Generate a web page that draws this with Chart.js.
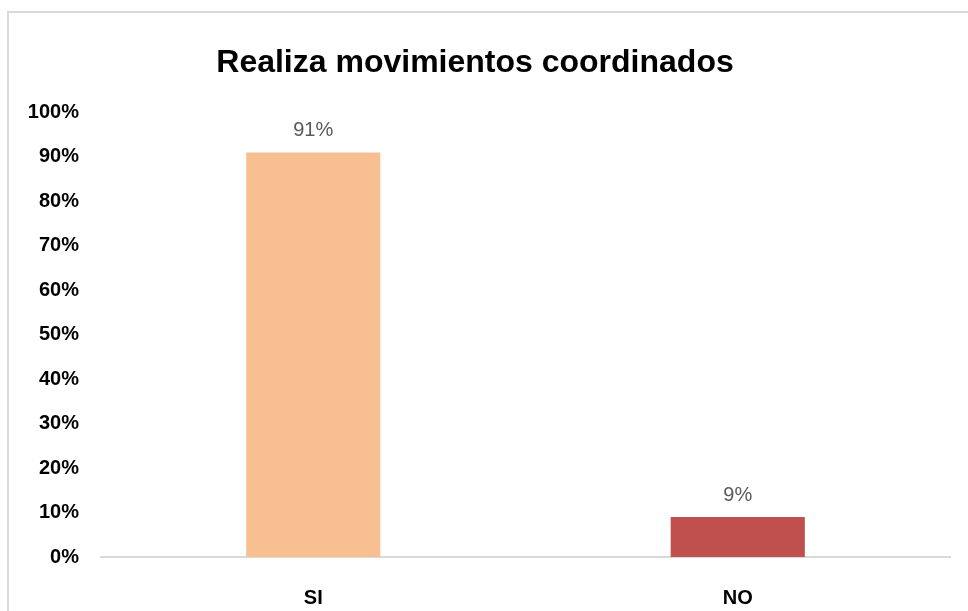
<!DOCTYPE html>
<html lang="es">
<head>
  <meta charset="UTF-8">
  <title>Realiza movimientos coordinados</title>
  <script src="https://cdn.jsdelivr.net/npm/chart.js"></script>
  <style>
    body { margin: 0; background: #fff; }
    .wrap { position: relative; width: 968px; height: 611px; }
    .frame {
      position: absolute; left: 7px; top: 11px; right: -5px; bottom: -5px;
      border-top: 2px solid #d9d9d9; border-left: 2px solid #d9d9d9;
      pointer-events: none;
    }
  </style>
</head>
<body>
  <div class="wrap">
    <canvas id="chart" width="968" height="611"></canvas>
    <div class="frame"></div>
  </div>
  <script>
    // data
    const categories = ['SI', 'NO'];
    const values = [91, 9];
    const barColors = ['#F8C090', '#C0504D'];
    const yTicks = [0, 10, 20, 30, 40, 50, 60, 70, 80, 90, 100];

    const font = "'Liberation Sans', Arial, sans-serif";

    // percent labels above the bars
    const barLabels = {
      id: 'barLabels',
      afterDatasetsDraw(chart) {
        const ctx = chart.ctx;
        const meta = chart.getDatasetMeta(0);
        ctx.save();
        ctx.font = '20px ' + font;
        ctx.fillStyle = '#595959';
        ctx.textAlign = 'center';
        ctx.textBaseline = 'alphabetic';
        meta.data.forEach((bar, i) => {
          ctx.fillText(values[i] + '%', bar.x, bar.y - 16);
        });
        ctx.restore();
      }
    };

    new Chart(document.getElementById('chart'), {
      type: 'bar',
      data: {
        labels: categories,
        datasets: [{
          data: values,
          backgroundColor: barColors,
          categoryPercentage: 1,
          barPercentage: 0.316
        }]
      },
      options: {
        responsive: false,
        animation: false,
        layout: { padding: { left: 0, right: 18, top: 0, bottom: 0 } },
        plugins: {
          legend: { display: false },
          tooltip: { enabled: false },
          title: {
            display: true,
            text: 'Realiza movimientos coordinados',
            color: '#000',
            font: { family: font, size: 32, weight: 'bold', lineHeight: 1.2 },
            padding: { top: 44, bottom: 30 }
          }
        },
        scales: {
          x: {
            grid: { display: false },
            border: { color: '#d9d9d9', width: 2 },
            ticks: {
              color: '#000',
              padding: 21,
              font: { family: font, size: 20, weight: 'bold' }
            },
            afterFit(scale) { scale.height = 54; }
          },
          y: {
            min: 0,
            max: 100,
            afterBuildTicks(scale) {
              scale.ticks = yTicks.map(v => ({ value: v }));
            },
            grid: { display: false, drawTicks: false },
            border: { display: false },
            ticks: {
              color: '#000',
              padding: 22,
              callback: v => v + '%',
              font: { family: font, size: 20, weight: 'bold' }
            },
            afterFit(scale) { scale.width = 101; }
          }
        }
      },
      plugins: [barLabels]
    });
  </script>
</body>
</html>
